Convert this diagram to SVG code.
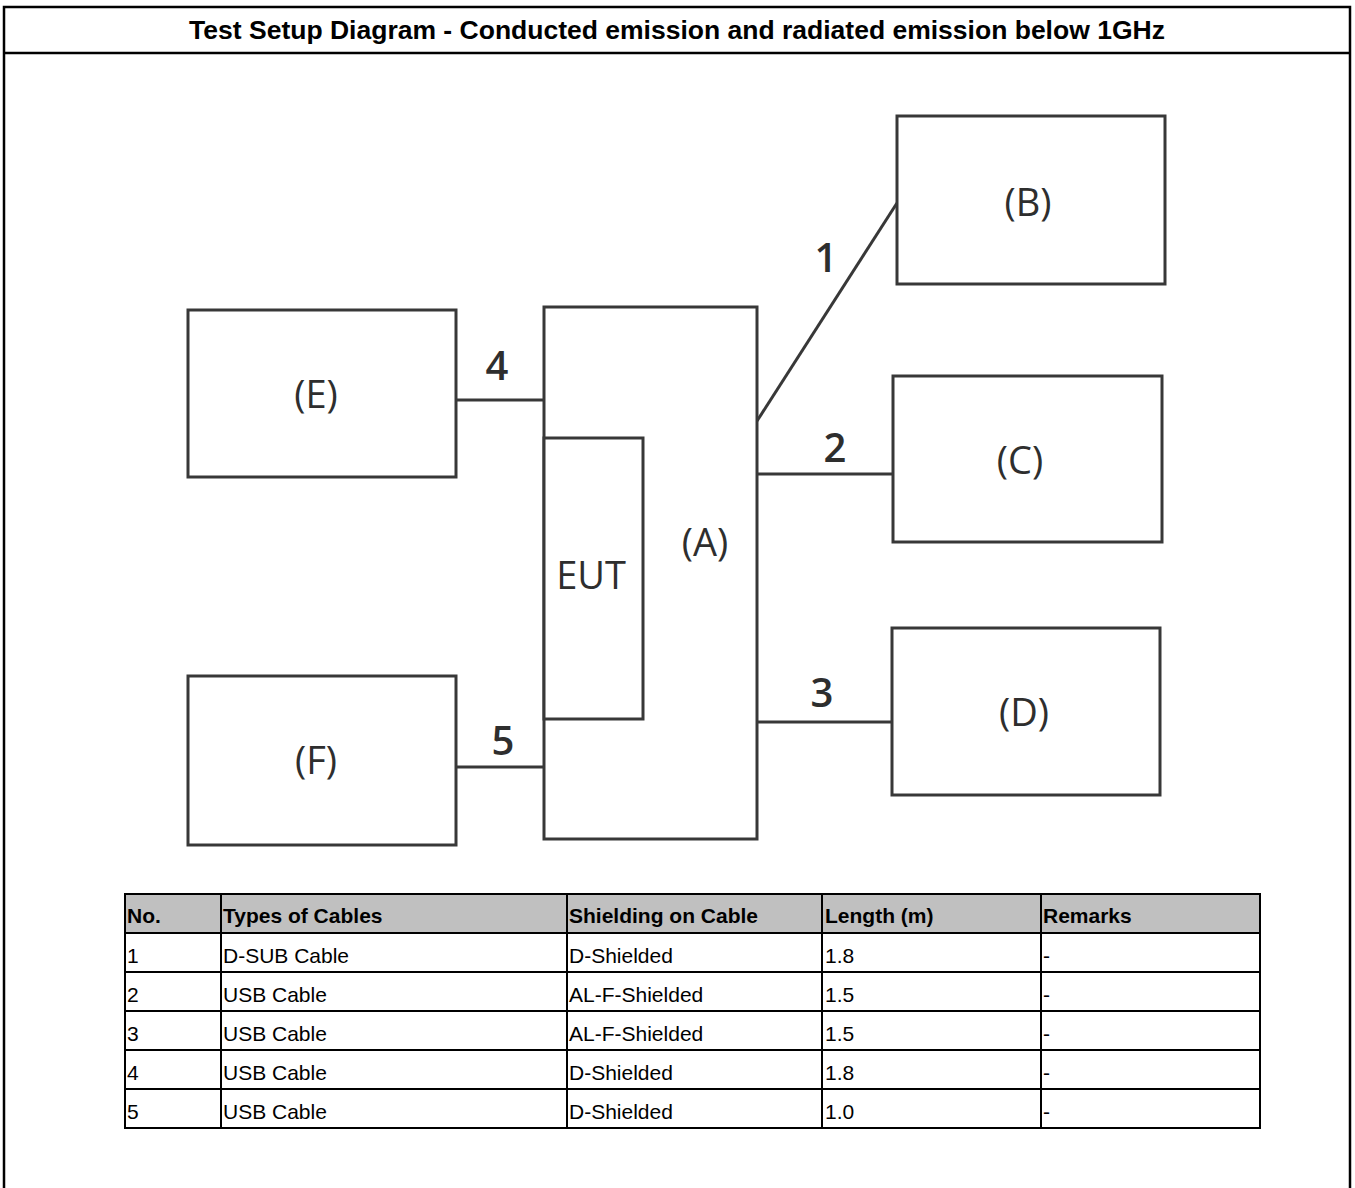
<svg xmlns="http://www.w3.org/2000/svg" width="1355" height="1188" viewBox="0 0 1355 1188">
<style>
.frame{fill:none;stroke:#000;stroke-width:2.5}
.box{fill:#fff;stroke:#383838;stroke-width:3}
.wire{fill:none;stroke:#383838;stroke-width:3}
.lbl{font-family:"Open Sans","DejaVu Sans",sans-serif;font-size:38px;fill:#2e2e2e;text-anchor:middle}
.num{font-family:"Open Sans","DejaVu Sans",sans-serif;font-size:40px;font-weight:600;fill:#2e2e2e;text-anchor:middle}
.title{font-family:"Liberation Sans",Arial,sans-serif;font-size:26.5px;font-weight:bold;fill:#000;text-anchor:middle}
.th{font-family:"Liberation Sans",Arial,sans-serif;font-size:21px;font-weight:bold;fill:#000}
.td{font-family:"Liberation Sans",Arial,sans-serif;font-size:21px;fill:#000}
.grid{fill:none;stroke:#000;stroke-width:2}
</style>
<rect width="1355" height="1188" fill="#fff"/>
<g id="frame">
<rect class="frame" x="4" y="7" width="1346" height="1200"/>
<line class="frame" x1="4" y1="53" x2="1350" y2="53"/>
<text class="title" x="677" y="39">Test Setup Diagram - Conducted emission and radiated emission below 1GHz</text>
</g>
<g id="connectors">
<line class="wire" x1="757" y1="421" x2="897" y2="203"/>
<line class="wire" x1="757" y1="474" x2="893" y2="474"/>
<line class="wire" x1="757" y1="722" x2="892" y2="722"/>
<line class="wire" x1="456" y1="400" x2="544" y2="400"/>
<line class="wire" x1="456" y1="767" x2="544" y2="767"/>
<text class="num" x="826" y="272">1</text>
<text class="num" x="835" y="462">2</text>
<text class="num" x="822" y="707">3</text>
<text class="num" x="497" y="380">4</text>
<text class="num" x="503" y="755">5</text>
</g>
<g id="nodeA">
<rect class="box" x="544" y="307" width="213" height="532"/>
<text class="lbl" x="705" y="556">(A)</text>
</g>
<g id="nodeEUT">
<rect class="box" x="544" y="438" width="99" height="281"/>
<text class="lbl" x="591" y="589">EUT</text>
</g>
<g id="nodeB">
<rect class="box" x="897" y="116" width="268" height="168"/>
<text class="lbl" x="1028" y="216">(B)</text>
</g>
<g id="nodeC">
<rect class="box" x="893" y="376" width="269" height="166"/>
<text class="lbl" x="1020" y="474">(C)</text>
</g>
<g id="nodeD">
<rect class="box" x="892" y="628" width="268" height="167"/>
<text class="lbl" x="1024" y="726">(D)</text>
</g>
<g id="nodeE">
<rect class="box" x="188" y="310" width="268" height="167"/>
<text class="lbl" x="316" y="408">(E)</text>
</g>
<g id="nodeF">
<rect class="box" x="188" y="676" width="268" height="169"/>
<text class="lbl" x="316" y="774">(F)</text>
</g>
<g id="table">
<rect x="125" y="894" width="1135" height="39" fill="#c0c0c0"/>
<rect class="grid" x="125" y="894" width="1135" height="234"/>
<line class="grid" x1="125" y1="933" x2="1260" y2="933"/>
<line class="grid" x1="125" y1="972" x2="1260" y2="972"/>
<line class="grid" x1="125" y1="1011" x2="1260" y2="1011"/>
<line class="grid" x1="125" y1="1050" x2="1260" y2="1050"/>
<line class="grid" x1="125" y1="1089" x2="1260" y2="1089"/>
<line class="grid" x1="221" y1="894" x2="221" y2="1128"/>
<line class="grid" x1="567" y1="894" x2="567" y2="1128"/>
<line class="grid" x1="822" y1="894" x2="822" y2="1128"/>
<line class="grid" x1="1041" y1="894" x2="1041" y2="1128"/>
<text class="th" x="127" y="923">No.</text>
<text class="th" x="223" y="923">Types of Cables</text>
<text class="th" x="569" y="923">Shielding on Cable</text>
<text class="th" x="825" y="923">Length (m)</text>
<text class="th" x="1043" y="923">Remarks</text>
<text class="td" x="127" y="963">1</text><text class="td" x="223" y="963">D-SUB Cable</text><text class="td" x="569" y="963">D-Shielded</text><text class="td" x="825" y="963">1.8</text><text class="td" x="1043" y="963">-</text>
<text class="td" x="127" y="1002">2</text><text class="td" x="223" y="1002">USB Cable</text><text class="td" x="569" y="1002">AL-F-Shielded</text><text class="td" x="825" y="1002">1.5</text><text class="td" x="1043" y="1002">-</text>
<text class="td" x="127" y="1041">3</text><text class="td" x="223" y="1041">USB Cable</text><text class="td" x="569" y="1041">AL-F-Shielded</text><text class="td" x="825" y="1041">1.5</text><text class="td" x="1043" y="1041">-</text>
<text class="td" x="127" y="1080">4</text><text class="td" x="223" y="1080">USB Cable</text><text class="td" x="569" y="1080">D-Shielded</text><text class="td" x="825" y="1080">1.8</text><text class="td" x="1043" y="1080">-</text>
<text class="td" x="127" y="1119">5</text><text class="td" x="223" y="1119">USB Cable</text><text class="td" x="569" y="1119">D-Shielded</text><text class="td" x="825" y="1119">1.0</text><text class="td" x="1043" y="1119">-</text>
</g>
</svg>
